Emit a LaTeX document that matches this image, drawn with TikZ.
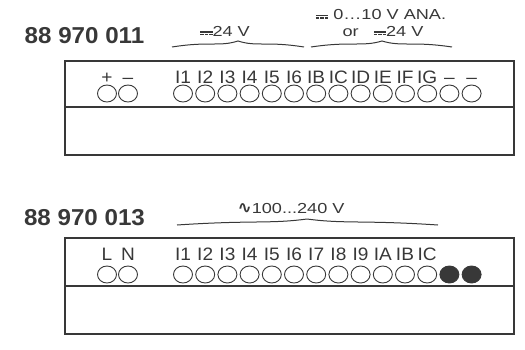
\documentclass[tikz,border=0pt]{standalone}
\usepackage{fontspec}
\setmainfont{Liberation Sans}
\newfontfamily\etiqfont{Liberation Sans}[FakeStretch=1.06]
\newfontfamily\voltfont{Liberation Sans}[FakeStretch=1.25]
\newfontfamily\titfont{Liberation Sans}[FakeStretch=1.05]
\newfontfamily\symfont{DejaVu Sans}
\usetikzlibrary{shapes.geometric}
\definecolor{tinta}{HTML}{383838}
% simbolo de corriente continua
\newcommand\simcc{\raisebox{0.45ex}{\rlap{\rule{0.85em}{0.09em}}}%
  \raisebox{0.1ex}{\rule{0.23em}{0.09em}\kern0.08em\rule{0.23em}{0.09em}\kern0.08em\rule{0.23em}{0.09em}}}
\newcommand\llave[5]{% izq, punta, der, dx, dy
  \draw[llave] (#1) .. controls +(#4,-#5) and +(-0.5*#4,#5) .. (#2)
                    .. controls +(0.5*#4,#5) and +(-#4,-#5) .. (#3);}
\begin{document}
\begin{tikzpicture}[x=1pt, y=-1pt,
    borne/.style={draw=tinta, line width=0.9pt, ellipse, minimum width=19pt,
                  minimum height=17pt, inner sep=0pt},
    lleno/.style={borne, fill=tinta},
    etiq/.style={text=tinta, font=\etiqfont\fontsize{18}{18}\selectfont, anchor=base, inner sep=0pt},
    titulo/.style={text=tinta, font=\titfont\bfseries\fontsize{23}{23}\selectfont, anchor=base, inner sep=0pt},
    voltaje/.style={text=tinta, font=\voltfont\fontsize{14.5}{16}\selectfont, anchor=base, inner sep=0pt},
    caja/.style={draw=tinta, line width=1.3pt},
    llave/.style={draw=tinta, line width=1pt}]
  \useasboundingbox (0,0) rectangle (525,349);
  \def\paso{22.2} % separacion entre bornes

  % 88 970 011
  \node[titulo] (t1) at (84.5,43) {88 970 011};
  \draw[caja] (65,61) coordinate (a0) rectangle (514,155) coordinate (a1);
  \draw[caja] (65,107) coordinate (am0) -- (514,107) coordinate (am1);
  \foreach \x/\t in {107/+,128/–} {
    \node[borne] (p\x) at (\x,93.5) {};
    \node[etiq] at (\x,83) {\t};
  }
  \foreach \t [count=\i] in {I1,I2,I3,I4,I5,I6,IB,IC,ID,IE,IF,IG,–,–} {
    \node[borne] (b\i) at ({183+(\i-1)*\paso},93.5) {};
    \node[etiq] (e\i) at ({183+(\i-1)*\paso},83) {\t};
  }
  \coordinate (l1) at (172,47); \coordinate (k1) at (238,41); \coordinate (r1) at (304,47);
  \coordinate (l2) at (311,47); \coordinate (k2) at (382,41); \coordinate (r2) at (452,47);
  \llave{l1}{k1}{r1}{38}{6}
  \llave{l2}{k2}{r2}{40}{6}
  \node[voltaje] (v1) at (225,36) {\simcc24 V};
  \node[voltaje] (v2) at (381,19.5) {\simcc\ 0…10 V ANA.};
  \node[voltaje] (v3) at (383,36) {or\ \ \ \simcc24 V};

  % 88 970 013
  \node[titulo] (t2) at (84.5,225) {88 970 013};
  \draw[caja] (65,238) coordinate (c0) rectangle (514,334) coordinate (c1);
  \draw[caja] (65,286) coordinate (cm0) -- (514,286) coordinate (cm1);
  \foreach \x/\t in {107/L,128/N} {
    \node[borne] (q\x) at (\x,274.5) {};
    \node[etiq] at (\x,260) {\t};
  }
  \foreach \t [count=\i] in {I1,I2,I3,I4,I5,I6,I7,I8,I9,IA,IB,IC} {
    \node[borne] (d\i) at ({183+(\i-1)*\paso},274.5) {};
    \node[etiq] (f\i) at ({183+(\i-1)*\paso},260) {\t};
  }
  \foreach \i in {13,14}
    \node[lleno] (d\i) at ({183+(\i-1)*\paso},274.5) {};
  \coordinate (l3) at (177,225); \coordinate (k3) at (307,219); \coordinate (r3) at (438,225);
  \llave{l3}{k3}{r3}{75}{5}
  \node[voltaje] (v4) at (291,213) {{\symfont\bfseries\fontsize{17}{17}\selectfont ∿}100...240 V};
\end{tikzpicture}
\end{document}
